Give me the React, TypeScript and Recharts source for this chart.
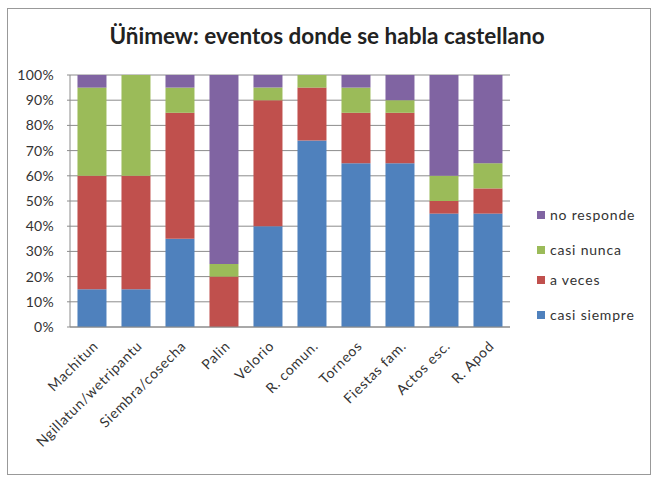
import React from 'react';
import { BarChart, Bar, XAxis, YAxis, CartesianGrid } from 'recharts';

const categories = ['Machitun', 'Ngillatun/wetripantu', 'Siembra/cosecha', 'Palin', 'Velorio', 'R. comun.', 'Torneos', 'Fiestas fam.', 'Actos esc.', 'R. Apod'];
const casiSiempre = [15, 15, 35, 0, 40, 74, 65, 65, 45, 45];
const aVeces = [45, 45, 50, 20, 50, 21, 20, 20, 5, 10];
const casiNunca = [35, 40, 10, 5, 5, 5, 10, 5, 10, 10];
const noResponde = [5, 0, 5, 75, 5, 0, 5, 10, 40, 35];
const yTicks = [0, 10, 20, 30, 40, 50, 60, 70, 80, 90, 100];

const series = [
  { key: 'noResponde', name: 'no responde', color: '#8064A2' },
  { key: 'casiNunca', name: 'casi nunca', color: '#9BBB59' },
  { key: 'aVeces', name: 'a veces', color: '#C0504D' },
  { key: 'casiSiempre', name: 'casi siempre', color: '#4F81BD' },
];

const data = categories.map((c, i) => ({
  name: c,
  casiSiempre: casiSiempre[i],
  aVeces: aVeces[i],
  casiNunca: casiNunca[i],
  noResponde: noResponde[i],
}));

const FONT = 'Lato, "Open Sans", sans-serif';

function AngledTick({ x, y, payload }: any) {
  const tx = x + 7;
  const ty = y + 12;
  return (
    <text
      x={tx}
      y={ty}
      textAnchor="end"
      transform={`rotate(-45, ${tx}, ${ty})`}
      fontSize={14}
      letterSpacing={0.7}
      fontFamily={FONT}
      fill="#333"
    >
      {payload.value}
    </text>
  );
}

export default function App() {
  const legendTops = [206, 241, 271, 306];
  return (
    <div style={{ position: 'absolute', left: 0, top: 0, width: 654, height: 482, background: '#fff' }}>
      <div style={{ position: 'absolute', left: 7, top: 8, width: 642, height: 465, border: '1px solid #999' }} />
      <div
        style={{
          position: 'absolute',
          left: 0,
          top: 22,
          width: 654,
          textAlign: 'center',
          fontFamily: FONT,
          fontWeight: 'bold',
          fontSize: 22.5,
          color: '#222',
        }}
      >
        Üñimew: eventos donde se habla castellano
      </div>
      <div style={{ position: 'absolute', left: 0, top: 0 }}>
        <BarChart
          width={654}
          height={482}
          data={data}
          margin={{ top: 75, right: 144, bottom: 0, left: 10 }}
          barCategoryGap="17%"
        >
          <CartesianGrid vertical={false} stroke="#8c8c8c" />
          <XAxis
            dataKey="name"
            interval={0}
            tick={<AngledTick />}
            tickLine={false}
            axisLine={{ stroke: '#8c8c8c' }}
            height={155}
          />
          <YAxis
            domain={[0, 100]}
            ticks={yTicks}
            interval={0}
            tickFormatter={(v: number) => `${v}%`}
            width={60}
            tick={{ fontSize: 14, fontFamily: FONT, fill: '#333', letterSpacing: 0.3 }}
            tickLine={{ stroke: '#8c8c8c' }}
            tickSize={3}
            tickMargin={13}
            axisLine={{ stroke: '#8c8c8c' }}
          />
          <Bar dataKey="casiSiempre" name="casi siempre" stackId="a" fill="#4F81BD" isAnimationActive={false} />
          <Bar dataKey="aVeces" name="a veces" stackId="a" fill="#C0504D" isAnimationActive={false} />
          <Bar dataKey="casiNunca" name="casi nunca" stackId="a" fill="#9BBB59" isAnimationActive={false} />
          <Bar dataKey="noResponde" name="no responde" stackId="a" fill="#8064A2" isAnimationActive={false} />
        </BarChart>
      </div>
      {series.map((s, i) => (
        <div
          key={s.key}
          style={{
            position: 'absolute',
            left: 537,
            top: legendTops[i],
            display: 'flex',
            alignItems: 'center',
            fontFamily: FONT,
            fontSize: 14,
            letterSpacing: 0.8,
            color: '#333',
            whiteSpace: 'nowrap',
          }}
        >
          <span style={{ display: 'inline-block', width: 8, height: 8, background: s.color, marginRight: 5 }} />
          {s.name}
        </div>
      ))}
    </div>
  );
}
